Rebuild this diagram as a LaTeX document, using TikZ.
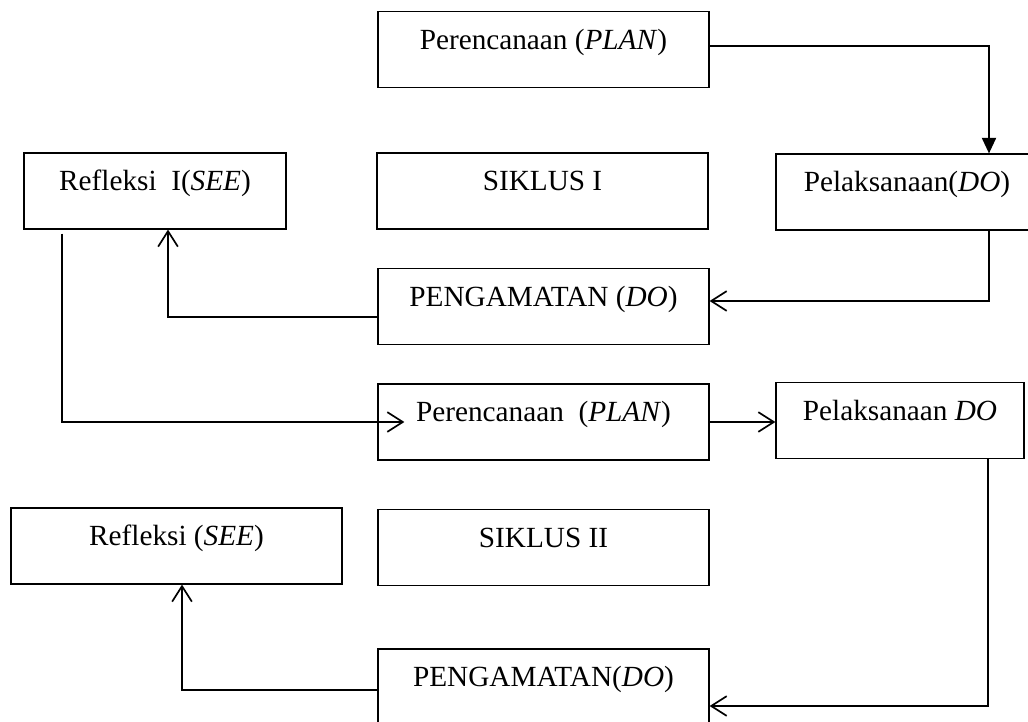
\documentclass[tikz,border=0pt]{standalone}
\usepackage{fontspec}
\setmainfont{Liberation Serif}
\usetikzlibrary{arrows.meta,calc}
\tikzset{
    stepbox/.style={draw, line width=0.9pt, inner xsep=0pt, inner ysep=0pt,
        text height=26.7pt, text depth=27.3pt, font=\fontsize{20.8}{25}\selectfont},
    barb/.style={line width=1.2pt, -{Straight Barb[length=11pt,width=14pt]}},
    tri/.style={line width=1.2pt, -{Triangle[length=11pt,width=10pt]}}
}
\begin{document}
\begin{tikzpicture}[x=0.025cm, y=-0.025cm]
    \useasboundingbox (0,0) rectangle (1028,722);
    \clip (0,0) rectangle (1028,722);
    %% kotak siklus: nama/x/y/lebar/teks (satuan piksel, y ke bawah)
    \foreach \n/\x/\y/\w/\t in
    {planA/543.5/49.5/331/{Perencanaan (\textit{PLAN})},
        seeA/155/191/262/{Refleksi\ \ I(\textit{SEE})},
        siklusA/542.5/191/331/{SIKLUS I},
        doA/907/192/262/{Pelaksanaan(\textit{DO})},
        amatA/543.5/306.5/331/{PENGAMATAN (\textit{DO})},
        planB/543.5/422/331/{Perencanaan\ \ (\textit{PLAN})},
        doB/900/420.5/248/{Pelaksanaan \textit{DO}},
        seeB/176.5/546/331/{Refleksi (\textit{SEE})},
        siklusB/543.5/547.5/331/{SIKLUS II},
        amatB/543.5/687/331/{PENGAMATAN(\textit{DO})}
    }
    {
        \node[stepbox, minimum width=\w*0.025cm] (\n) at (\x,\y) {\t};
    };
    
    %% siklus I
    \draw[tri] ($(planA.east)+(0,-3.5)$) -| ($(doA.north)+(82,0)$);
    \draw[barb] ($(doA.south)+(82,0)$) |- ($(amatA.east)+(0,-5.5)$);
    \draw[barb] ($(amatA.west)+(0,10.5)$) -| ($(seeA.south)+(13,0)$);
    %% siklus II
    \draw[barb] ($(seeA.south)+(-93,4)$) |- ($(planB.west)+(27,0)$);
    \draw[barb] (planB.east) -- (planB.east -| doB.west);
    \draw[barb] ($(doB.south)+(88,0)$) |- ($(amatB.east)+(0,19)$);
    \draw[barb] ($(amatB.west)+(0,3)$) -| ($(seeB.south)+(5.5,0)$);
\end{tikzpicture}
\end{document}
